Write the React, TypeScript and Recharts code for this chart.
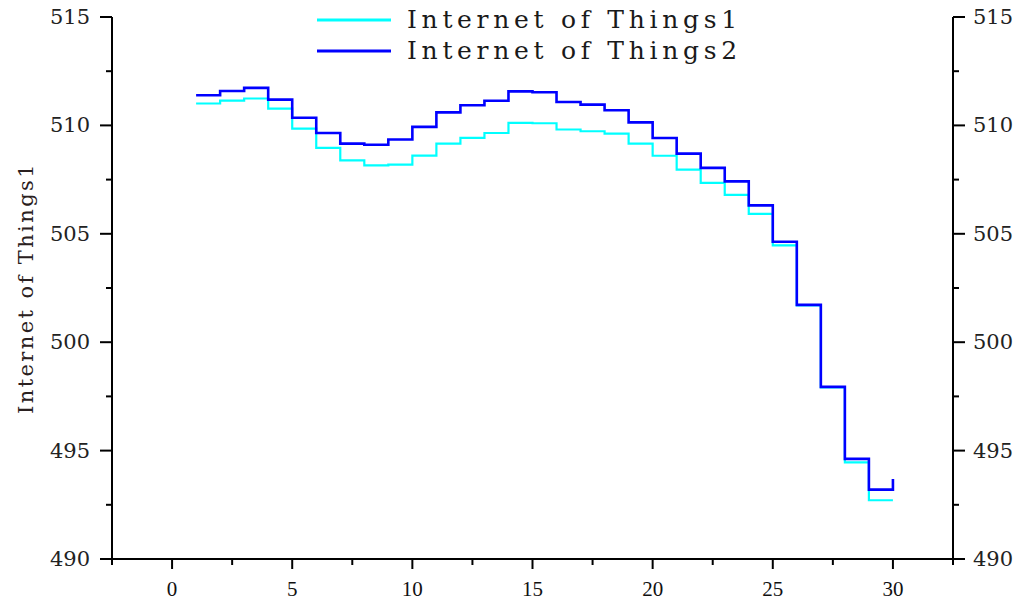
import React from 'react';
import { LineChart, Line, XAxis, YAxis, Legend } from 'recharts';

const X_VALUES = [1, 2, 3, 4, 5, 6, 7, 8, 9, 10, 11, 12, 13, 14, 15, 16, 17, 18, 19, 20, 21, 22, 23, 24, 25, 26, 27, 28, 29, 30];
const IOT1 = [511.01, 511.14, 511.24, 510.77, 509.85, 508.96, 508.39, 508.16, 508.19, 508.61, 509.16, 509.42, 509.65, 510.12, 510.10, 509.81, 509.73, 509.62, 509.16, 508.60, 507.96, 507.35, 506.80, 505.92, 504.47, 501.70, 497.92, 494.46, 492.71, 492.71];
const IOT2 = [511.39, 511.59, 511.73, 511.19, 510.35, 509.65, 509.16, 509.11, 509.35, 509.93, 510.60, 510.93, 511.14, 511.57, 511.53, 511.08, 510.96, 510.70, 510.14, 509.42, 508.70, 508.04, 507.42, 506.31, 504.63, 501.72, 497.94, 494.62, 493.20, 493.69];

const X_TICKS = [-2.5, 0, 2.5, 5, 7.5, 10, 12.5, 15, 17.5, 20, 22.5, 25, 27.5, 30, 32.5];
const X_MAJOR = [0, 5, 10, 15, 20, 25, 30];
const Y_TICKS = [490, 492.5, 495, 497.5, 500, 502.5, 505, 507.5, 510, 512.5, 515];
const Y_MAJOR = [490, 495, 500, 505, 510, 515];

const SERIES_NAMES = ['Internet of Things1', 'Internet of Things2'];
const SERIES_COLORS = ['#00FFFF', '#0000FF'];

const data = X_VALUES.map((x, i) => ({ x, iot1: IOT1[i], iot2: IOT2[i] }));

const XTick = (props: any) => {
  const { x, y, payload } = props;
  const major = X_MAJOR.includes(payload.value);
  return (
    <g>
      <line x1={x} x2={x} y1={y} y2={y + (major ? 10 : 6)} stroke="#000" strokeWidth={2} />
      {major && (
        <text x={x} y={y + 30} textAnchor="middle" dominantBaseline="central"
          style={{ fontFamily: 'Liberation Serif', fontSize: 21, fill: '#111' }}>
          {payload.value}
        </text>
      )}
    </g>
  );
};

const LeftTick = (props: any) => {
  const { x, y, payload } = props;
  const major = Y_MAJOR.includes(payload.value);
  return (
    <g>
      <line x1={x} x2={x - (major ? 12 : 6)} y1={y} y2={y} stroke="#000" strokeWidth={2} />
      {major && (
        <text x={x - 22} y={y} textAnchor="end" dominantBaseline="central"
          style={{ fontFamily: 'DejaVu Serif', fontSize: 21, fill: '#222' }}>
          {payload.value}
        </text>
      )}
    </g>
  );
};

const RightTick = (props: any) => {
  const { x, y, payload } = props;
  const major = Y_MAJOR.includes(payload.value);
  return (
    <g>
      <line x1={x} x2={x + (major ? 12 : 6)} y1={y} y2={y} stroke="#000" strokeWidth={2} />
      {major && (
        <text x={x + 20} y={y} textAnchor="start" dominantBaseline="central"
          style={{ fontFamily: 'DejaVu Serif', fontSize: 21, fill: '#222' }}>
          {payload.value}
        </text>
      )}
    </g>
  );
};

const renderLegend = () => (
  <div style={{ fontFamily: 'DejaVu Serif', fontSize: 25, lineHeight: '31px', color: '#1a1a1a', letterSpacing: 4.7 }}>
    {SERIES_NAMES.map((name, i) => (
      <div key={name} style={{ display: 'flex', alignItems: 'center', whiteSpace: 'nowrap' }}>
        <svg width={74} height={6} style={{ display: 'block' }}>
          <line x1={0} x2={74} y1={3} y2={3} stroke={SERIES_COLORS[i]} strokeWidth={3} />
        </svg>
        <span style={{ marginLeft: 16 }}>{name}</span>
      </div>
    ))}
  </div>
);

export default function App() {
  return (
    <div style={{ width: 1008, height: 606, position: 'relative', marginTop: -8 }}>
      <LineChart width={1008} height={606} data={data} margin={{ top: 17, right: 0, bottom: 0, left: 0 }}>
        <XAxis dataKey="x" type="number" domain={[-2.5, 32.5]} ticks={X_TICKS} interval={0}
          allowDataOverflow height={47} tickSize={0} tickMargin={0} tickLine={false}
          axisLine={{ stroke: '#000', strokeWidth: 2 }} tick={(p: any) => <XTick {...p} />} />
        <YAxis yAxisId="left" orientation="left" type="number" domain={[490, 515]} ticks={Y_TICKS}
          interval={0} allowDataOverflow width={104} tickSize={0} tickMargin={0} tickLine={false}
          axisLine={{ stroke: '#000', strokeWidth: 2 }} tick={(p: any) => <LeftTick {...p} />}
          label={{ value: SERIES_NAMES[0], angle: -90, position: 'insideLeft', offset: 0,
            style: { fontFamily: 'DejaVu Serif', fontSize: 21, fill: '#2a2020', textAnchor: 'middle', letterSpacing: 2.4 }, dx: 18 }} />
        <YAxis yAxisId="right" orientation="right" type="number" domain={[490, 515]} ticks={Y_TICKS}
          interval={0} allowDataOverflow width={63} tickSize={0} tickMargin={0} tickLine={false}
          axisLine={{ stroke: '#000', strokeWidth: 2 }} tick={(p: any) => <RightTick {...p} />} />
        <Legend layout="vertical" align="center" verticalAlign="middle" content={renderLegend}
          wrapperStyle={{ position: 'absolute', top: 4, left: 309, width: 'auto' }} />
        <Line yAxisId="left" type="stepAfter" dataKey="iot1" name={SERIES_NAMES[0]} stroke={SERIES_COLORS[0]}
          strokeWidth={2.2} dot={false} isAnimationActive={false} />
        <Line yAxisId="left" type="stepAfter" dataKey="iot2" name={SERIES_NAMES[1]} stroke={SERIES_COLORS[1]}
          strokeWidth={2.6} dot={false} isAnimationActive={false} />
      </LineChart>
    </div>
  );
}
